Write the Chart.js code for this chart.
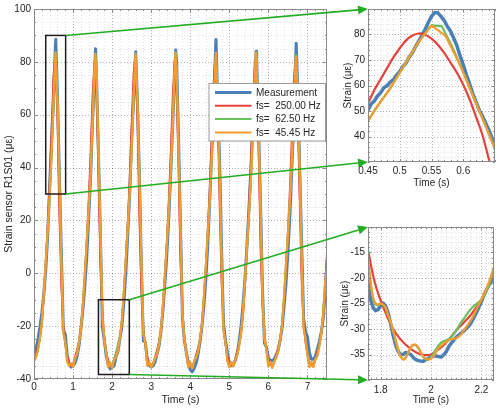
<!DOCTYPE html>
<html><head><meta charset="utf-8">
<script src="https://cdn.jsdelivr.net/npm/chart.js@4.4.1/dist/chart.umd.min.js"></script>
<style>
html,body{margin:0;padding:0;background:#fff;}
#wrap{position:relative;width:500px;height:411px;overflow:hidden;background:#fff;}
canvas{position:absolute;}
#main{left:0;top:0;width:500px;height:411px;}
#in1{left:330px;top:0;width:170px;height:200px;}
#in2{left:330px;top:205px;width:170px;height:206px;}
#ov{left:0;top:0;width:500px;height:411px;pointer-events:none;}
</style></head><body>
<div id="wrap">
<canvas id="main" width="500" height="411"></canvas>
<canvas id="in1" width="170" height="200"></canvas>
<canvas id="in2" width="170" height="206"></canvas>
<canvas id="ov" width="500" height="411"></canvas>
</div>
<script>
// ---------------- DATA ----------------
const seriesLabels = ['Measurement', 'fs=  250.00 Hz', 'fs=  62.50 Hz', 'fs=  45.45 Hz'];

// main chart: values on a 0.05 s grid from 0 to 7.5 s
const mainStart = 0, mainStep = 0.05;
const mainMeas = [
 -31.5,-28.8,-25.1,-20.5,-15,-8,1,14,33,50.3,
 65.5,87.2,68,36.6,8,-21.5,-23,-31,-34.5,-35.5,
 -35,-34,-31.6,-27.5,-21,-14,-5,6,21,37,
 58,75,74,45,14,-20.3,-25.4,-31.3,-34.6,-36.2,
 -35.5,-35.1,-31.6,-29.4,-24.6,-20,-11,0,15,30,
 51,66,83,64,36,1,-25.5,-26,-33,-34.8,
 -35.5,-35,-33.5,-30.5,-27.5,-22,-14,-4,7,21,
 38,56,74,80,51,17,-17,-25.5,-30,-34.5,
 -36.5,-37.2,-36,-34,-30.5,-26,-20,-12,-2,11,
 28,46,63,86,66,43,10,-19,-25,-30,
 -34,-35,-34.5,-33,-30.5,-26,-20,-12,-2,10,
 24,39,56,72,81,54,25,-7,-26.5,-28,
 -32,-33,-33,-32.5,-31,-29,-25.5,-20.5,-13,-4,
 8,22,40,58,82,70,40,12,-17,-22,
 -24,-30,-32.5,-32.5,-31.5,-29,-26,-22.5,-17.5,-8,
 4];
const mainRed = [
 -33.4,-30.6,-28,-24.7,-19.4,-9.4,3.3,17.3,33,52.9,
 74.6,78.4,60.3,23,-4,-19.5,-26.7,-31.4,-33.9,-35,
 -34.2,-31.8,-29,-26,-21.8,-13.8,-1.8,12.3,27.3,45.4,
 66.8,80,68,39.7,4.5,-14.5,-24.4,-30,-33.1,-34.8,
 -35,-33.2,-30.3,-27.7,-24.3,-18.7,-8,5,19,35,
 56,75.5,77.5,58,20.5,-6.5,-21,-27.4,-31.8,-34.1,
 -35.1,-34.2,-31.8,-29,-26.1,-22,-14.2,-2.3,11.7,26.7,
 44.6,66,80.4,68.9,41.2,5.3,-14.2,-24.3,-29.9,-33.1,
 -34.8,-35.1,-33.6,-30.8,-28.2,-25,-19.8,-10.2,2.5,16.5,
 32.1,52,72.3,79.3,61.8,27.7,-2.5,-18.7,-26.3,-31.2,
 -33.8,-35,-34.5,-32.6,-29.5,-26.7,-22.9,-16,-4.4,9.2,
 23.8,41,62.2,78.8,72.3,47.5,9.5,-11.5,-23,-29,
 -32.6,-34.5,-35,-33.6,-30.9,-28.3,-25.1,-20.1,-10.7,2,
 15.9,31.5,51.4,71.8,79.2,62.6,29.3,-1.5,-18,-26,
 -31,-33.7,-34.9,-34.7,-32.6,-29.8,-27,-23.4,-16.8,-5.5,
 7.8];
const mainGreen = [
 -32.8,-31.6,-29,-24.5,-18.5,-8.2,3.6,15.6,28.6,44.6,
 64.6,83.4,66,36,4.5,-22,-26.2,-33.2,-34.8,-34.2,
 -35.4,-32.4,-30.2,-26.3,-21,-12,0,11.4,24,38,
 57.5,77,76,47,16,-16.8,-25.1,-30.4,-35.5,-33.8,
 -35.5,-32.4,-30.3,-26.6,-24.2,-18.2,-6.8,5.2,17.2,30.2,
 46.6,66.6,83.2,65.5,35.5,3.4,-22.6,-26.4,-34.8,-33.6,
 -35.4,-34,-32,-30.3,-26.5,-21.3,-12.4,-0.5,11,23.5,
 37.4,56.7,76.3,77,48,17,-15,-25.2,-30.2,-35.4,
 -33.8,-35.8,-33.2,-31.6,-29.2,-24.8,-19,-8.5,3.5,15.1,
 28,43.5,63.3,82.2,67.5,38,6.2,-21.2,-26.2,-33,
 -35.3,-33.6,-35.1,-32.3,-30.8,-27.3,-22.3,-14.4,-2.7,9.3,
 21.2,34.8,53,72.7,79.5,53.5,23,-9.2,-24.9,-29,
 -35.1,-33.6,-35.6,-33.2,-31.7,-29.3,-25,-19.2,-8.8,3.1,
 14.7,27.4,42.7,62.5,81.2,68.5,39,7.5,-20.4,-25,
 -30.8,-35.2,-33.7,-35.3,-32.5,-31.1,-27.7,-23,-15.8,-4.2,
 1.8];
const mainOrange = [
 -33,-31.9,-29.3,-24.8,-18.8,-8,4,16,29,45,
 65,83.6,65.5,35.5,4,-22.5,-26,-33.5,-35,-34,
 -35.5,-32.2,-30.6,-26.6,-21.4,-12.3,-0.3,11.7,24.2,38.3,
 57.8,77.3,75.5,46.5,15.5,-16.1,-25,-30.3,-35.6,-33.7,
 -35.8,-32.9,-31.8,-28.9,-24.2,-17.9,-6.5,5.5,17.5,30.5,
 47,67,83,65,35,3,-23,-26.2,-35,-33.5,
 -35.5,-34.2,-32.2,-30.6,-26.8,-21.6,-12.7,-0.7,11.2,23.7,
 37.7,57,76.6,76.5,47.6,16.6,-15.4,-25,-30.1,-35.6,
 -33.7,-36,-33.4,-31.9,-29.5,-25.1,-19.2,-8.7,3.3,15.3,
 28.2,43.8,63.6,82,67,37.4,5.8,-21.5,-26,-33.2,
 -35.5,-33.5,-35.3,-32.5,-31.1,-27.6,-22.6,-14.7,-2.9,9.1,
 21.4,35,53.3,73,79,53,22.4,-9.6,-24.8,-28.8,
 -35.3,-33.5,-35.8,-33.4,-32,-29.6,-25.3,-19.5,-9.1,2.9,
 14.9,27.6,43,62.8,81,68,38.6,7,-20.7,-24.8,
 -31,-35.5,-33.5,-35.5,-32.7,-31.4,-28,-23.2,-16,-4,
 2];
// peak samples (times between grid points)
const measPeakT   = [0.556, 1.574, 2.603, 3.626, 4.659, 5.685, 6.711];
const measPeakV   = [88.6, 85, 83.8, 84.5, 88.5, 84, 87];
const redPeakT    = [0.531, 1.549, 2.578, 3.601, 4.634, 5.66, 6.686];
const redPeakV    = [80.4, 80, 80.2, 80.4, 80.3, 80.4, 80];
const greenPeakT  = [0.555, 1.573, 2.602, 3.625, 4.658, 5.684, 6.71];
const greenPeakV  = [83.5, 83.2, 83.3, 83.6, 83.5, 83.6, 82.5];
const orangePeakT = [0.551, 1.569, 2.598, 3.621, 4.654, 5.68, 6.706];
const orangePeakV = [83.6, 83, 83, 83.5, 83.4, 83.5, 82];

const mainXRange = [0, 7.5], mainYRange = [-40, 100];
const mainXTicks = [0, 1, 2, 3, 4, 5, 6, 7];
const mainYTicks = [-40, -20, 0, 20, 40, 60, 80, 100];
// zoom rectangles [x0, x1, y0, y1] in data units
const zoomBox1 = [0.3, 0.81, 30, 90];
const zoomBox2 = [1.65, 2.44, -38.3, -10];

// inset 1 (peak)
const in1XRange = [0.45, 0.65], in1YRange = [30, 90];
const in1XTicks = [0.45, 0.5, 0.55, 0.6];
const in1YTicks = [40, 50, 60, 70, 80];
const in1MeasStart = 0.45, in1MeasStep = 0.005;
const in1Meas = [50.3,52.8,53.9,55.9,57.2,59.1,59.9,61.3,62.3,64.1,
 65.5,67.4,68.9,71.1,72.9,75.3,77.4,79.7,82,84.7,
 87.1,88.6,88.5,87.1,85.5,83.2,81.3,78.5,75.6,71.7,
 68.1,64.2,60.6,56.8,53.7,50.5,48.1,45.4,42.7,39.6,36.6];
const in1RedStart = 0.45, in1RedStep = 0.01;
const in1Red = [52.9,58.2,62.5,66.8,71,74.6,77.7,79.6,80.4,79.9,78.4,76,72.8,69,65,60.3,54.6,47.8,40.8,31.5,23];
const in1GreenT = [0.438,0.454,0.47,0.486,0.502,0.518,0.534,0.55,0.566,0.582,0.598,0.614,0.63,0.646,0.662];
const in1Green  = [41.2,47.7,53.7,59.3,65.9,72.4,78.5,83.6,83.3,75.5,66.5,56.8,47.3,37.5,27];
const in1OrangeT = [0.44,0.462,0.484,0.506,0.528,0.55,0.572,0.594,0.616,0.638,0.66];
const in1Orange  = [42,51,58.5,67.5,76.5,83.6,79.5,68.5,55.5,42.5,29];

// inset 2 (valley)
const in2XRange = [1.75, 2.25], in2YRange = [-40, -10];
const in2XTicks = [1.8, 2, 2.2];
const in2YTicks = [-35, -30, -25, -20, -15];
const in2Start = 1.75, in2Step = 0.01;
const in2Meas = [-20.3,-24.2,-25.8,-26.4,-26.2,-25.4,-24.9,-25.5,-26.9,-29,
 -31.3,-33.2,-34.4,-35,-35,-34.6,-34.8,-35,-35.6,-36,
 -36.2,-36.3,-36.3,-36,-35.8,-35.5,-35.3,-35.3,-35.4,-35.5,
 -35.1,-34.5,-33.5,-32.8,-32.2,-31.6,-31.2,-30.8,-30.4,-29.9,
 -29.4,-28.7,-27.8,-26.8,-25.7,-24.6,-23.4,-22.3,-21.4,-20.6,-20];
const in2RedStart = 1.75, in2RedStep = 0.025;
const in2Red = [-14.5,-20.5,-24.4,-27.4,-30,-31.8,-33.1,-34.1,-34.8,-35.1,-35,-34.2,-33.2,-31.8,-30.3,-29,-27.7,-26.1,-24.3,-21.9,-18.7];
const in2Green = [-16.8,-21,-24.2,-25.2,-25.3,-25.1,-25.3,-26,-27.4,-28.8,
 -30.4,-32.3,-34.1,-35.4,-35.9,-35.5,-34.6,-33.7,-33.2,-33.2,
 -33.8,-34.7,-35.5,-35.9,-35.9,-35.5,-34.8,-34,-33.2,-32.7,
 -32.4,-32.2,-32,-31.6,-31,-30.3,-29.5,-28.7,-28,-27.3,
 -26.6,-26,-25.5,-25.1,-24.7,-24.2,-23.5,-22.6,-21.4,-19.9,-18.2];
const in2Orange = [-16.1,-20.5,-23.8,-25,-25.2,-25,-25.2,-25.8,-27.3,-28.6,
 -30.3,-32.3,-34.2,-35.5,-36,-35.6,-34.6,-33.6,-33.1,-33.1,
 -33.7,-34.6,-35.4,-35.9,-36,-35.8,-35.3,-34.5,-33.8,-33.3,
 -32.9,-32.5,-32.2,-32,-31.9,-31.8,-31.5,-31,-30.3,-29.6,
 -28.9,-28.1,-27.2,-26.2,-25.2,-24.2,-23.2,-22.1,-20.8,-19.4,-17.9];

// ---------------- helpers ----------------
const FONT = "'Liberation Sans', Arial, Helvetica, sans-serif";
const TXT = '#262626';
const C_BLUE = '#4a80b5', C_RED = '#e6413d', C_GREEN = '#69c05e', C_ORANGE = '#f59b2f';
const C_LINK = '#22ad22';

function gridPts(start, step, vals) { return vals.map((v, i) => ({x: +(start + i * step).toFixed(4), y: v})); }
function pairPts(ts, vals) { return ts.map((t, i) => ({x: t, y: vals[i]})); }
function merged(a, b) { return a.concat(b).sort((p, q) => p.x - q.x); }
function fmt(v) { return String(+(+v).toFixed(3)); }
function stepsIn(min, max, st) {
  const out = [];
  for (let n = Math.ceil(min / st - 1e-6); n * st <= max + 1e-9; n++) out.push(n * st);
  return out;
}

const axesDecor = {
  id: 'axesDecor',
  beforeDatasetsDraw(chart, args, o) {
    const {ctx, chartArea: a, scales: {x, y}} = chart;
    ctx.save();
    ctx.lineWidth = 1;
    ctx.setLineDash([1, 2]);
    const vl = (vals, col) => {
      ctx.strokeStyle = col; ctx.beginPath();
      vals.forEach(v => { const p = Math.round(x.getPixelForValue(v)) + 0.5;
        if (p > a.left + 1 && p < a.right - 1) { ctx.moveTo(p, a.top); ctx.lineTo(p, a.bottom); } });
      ctx.stroke();
    };
    const hl = (vals, col) => {
      ctx.strokeStyle = col; ctx.beginPath();
      vals.forEach(v => { const p = Math.round(y.getPixelForValue(v)) + 0.5;
        if (p > a.top + 1 && p < a.bottom - 1) { ctx.moveTo(a.left, p); ctx.lineTo(a.right, p); } });
      ctx.stroke();
    };
    vl(stepsIn(x.min, x.max, o.minorX), o.minorColor);
    hl(stepsIn(y.min, y.max, o.minorY), o.minorColor);
    vl(x.ticks.map(t => t.value), o.majorColor);
    hl(y.ticks.map(t => t.value), o.majorColor);
    ctx.restore();
  },
  afterDatasetsDraw(chart, args, o) {
    const {ctx, chartArea: a, scales: {x, y}} = chart;
    ctx.save();
    ctx.setLineDash([]);
    ctx.lineWidth = 1;
    ctx.strokeStyle = o.boxColor;
    ctx.beginPath();
    const tx = (vals, len) => vals.forEach(v => { const p = Math.round(x.getPixelForValue(v)) + 0.5;
      ctx.moveTo(p, a.bottom); ctx.lineTo(p, a.bottom - len); ctx.moveTo(p, a.top); ctx.lineTo(p, a.top + len); });
    const ty = (vals, len) => vals.forEach(v => { const p = Math.round(y.getPixelForValue(v)) + 0.5;
      ctx.moveTo(a.left, p); ctx.lineTo(a.left + len, p); ctx.moveTo(a.right, p); ctx.lineTo(a.right - len, p); });
    tx(stepsIn(x.min, x.max, o.minorX), o.minLen);
    ty(stepsIn(y.min, y.max, o.minorY), o.minLen);
    tx(x.ticks.map(t => t.value), o.majLen);
    ty(y.ticks.map(t => t.value), o.majLen);
    ctx.stroke();
    ctx.strokeRect(a.left + 0.5, a.top + 0.5, a.width - 1, a.height - 1);
    (o.boxes || []).forEach(b => {
      ctx.strokeStyle = '#1c1c1c'; ctx.lineWidth = 1.5;
      const x0 = x.getPixelForValue(b[0]), x1 = x.getPixelForValue(b[1]);
      const y0 = y.getPixelForValue(b[2]), y1 = y.getPixelForValue(b[3]);
      ctx.strokeRect(x0, y1, x1 - x0, y0 - y1);
    });
    ctx.restore();
  }
};

const boxLegend = {
  id: 'boxLegend',
  afterDraw(chart, args, o) {
    if (!o.show) return;
    const {ctx, chartArea: a} = chart;
    const w = 116.5, h = 57.5;
    const x0 = a.right - 1.5 - w, y0 = 83.5;
    ctx.save();
    ctx.fillStyle = '#fff';
    ctx.fillRect(x0, y0, w, h);
    ctx.strokeStyle = '#9a9a9a'; ctx.lineWidth = 1;
    ctx.strokeRect(x0, y0, w, h);
    ctx.font = '10px ' + FONT;
    ctx.textBaseline = 'middle';
    ctx.fillStyle = TXT;
    chart.data.datasets.forEach((ds, i) => {
      const yy = y0 + 9 + i * 13.3;
      ctx.strokeStyle = ds.borderColor; ctx.lineWidth = ds.legendWidth;
      ctx.beginPath(); ctx.moveTo(x0 + 6, yy); ctx.lineTo(x0 + 42.5, yy); ctx.stroke();
      ctx.fillText(ds.label, x0 + 47, yy + 0.5);
    });
    ctx.restore();
  }
};

function datasets(meas, red, green, orange, wide, smooth) {
  return [
    {label: seriesLabels[0], data: meas, borderColor: C_BLUE, borderWidth: wide ? 3.5 : 3, legendWidth: 3, order: 4, tension: 0},
    {label: seriesLabels[1], data: red, borderColor: C_RED, borderWidth: wide ? 2.2 : 2, legendWidth: 2, order: 3, tension: smooth ? 0.4 : 0},
    {label: seriesLabels[2], data: green, borderColor: C_GREEN, borderWidth: wide ? 2.2 : 2, legendWidth: 2, order: 2, tension: smooth ? 0.3 : 0},
    {label: seriesLabels[3], data: orange, borderColor: C_ORANGE, borderWidth: wide ? 2.2 : 2.2, legendWidth: 2, order: 1, tension: smooth ? 0.3 : 0}
  ].map(d => Object.assign(d, {pointRadius: 0, fill: false, clip: 0, borderJoinStyle: 'round', borderCapStyle: 'round'}));
}

function makeChart(id, ds, c) {
  return new Chart(document.getElementById(id), {
    type: 'line',
    data: {datasets: ds},
    plugins: [axesDecor, boxLegend],
    options: {
      responsive: false, animation: false, devicePixelRatio: 1, events: [],
      layout: {padding: c.pad},
      plugins: {
        legend: {display: false}, tooltip: {enabled: false},
        axesDecor: {minorX: c.minorX, minorY: c.minorY, majorColor: 'rgba(0,0,0,0.22)', minorColor: c.minorColor,
                    boxColor: '#8a8a8a', majLen: c.majLen, minLen: c.minLen, boxes: c.boxes || []},
        boxLegend: {show: !!c.legend}
      },
      scales: {
        x: {type: 'linear', min: c.xr[0], max: c.xr[1],
            afterBuildTicks: s => { s.ticks = c.xt.map(v => ({value: v})); },
            afterFit: s => { s.height = c.xh; },
            grid: {display: false, drawTicks: false}, border: {display: false},
            ticks: {font: {family: FONT, size: 10}, color: TXT, padding: c.xtp, maxRotation: 0, autoSkip: false, callback: v => fmt(v)},
            title: {display: true, text: 'Time (s)', font: {family: FONT, size: c.tfs}, color: TXT, padding: {top: c.xtitle, bottom: c.xtitle}}},
        y: {type: 'linear', min: c.yr[0], max: c.yr[1],
            afterBuildTicks: s => { s.ticks = c.yt.map(v => ({value: v})); },
            afterFit: s => { s.width = c.yw; },
            grid: {display: false, drawTicks: false}, border: {display: false},
            ticks: {font: {family: FONT, size: 10}, color: TXT, padding: 3, autoSkip: false, callback: v => fmt(v)},
            title: {display: true, text: c.ytitleText, font: {family: FONT, size: c.tfs}, color: TXT, padding: {top: c.ytitle, bottom: c.ytitle}}}
      }
    }
  });
}

// ---------------- charts ----------------
const mainChart = makeChart('main', datasets(
  merged(gridPts(mainStart, mainStep, mainMeas), pairPts(measPeakT, measPeakV)),
  merged(gridPts(mainStart, mainStep, mainRed), pairPts(redPeakT, redPeakV)),
  merged(gridPts(mainStart, mainStep, mainGreen), pairPts(greenPeakT, greenPeakV)),
  merged(gridPts(mainStart, mainStep, mainOrange), pairPts(orangePeakT, orangePeakV)),
  false, false), {
  pad: {left: 0, right: 173, top: 9, bottom: 0}, xh: 32, yw: 34,
  xr: mainXRange, yr: mainYRange, xt: mainXTicks, yt: mainYTicks,
  minorX: 0.2, minorY: 5, minorColor: 'rgba(0,0,0,0.11)', majLen: 4, minLen: 2,
  xtp: 2, tfs: 10.5, xtitle: 4.7, ytitle: 2.7, ytitleText: 'Strain sensor R1S01 (με)',
  boxes: [zoomBox1, zoomBox2], legend: true
});

const in1Chart = makeChart('in1', datasets(
  gridPts(in1MeasStart, in1MeasStep, in1Meas),
  gridPts(in1RedStart, in1RedStep, in1Red),
  pairPts(in1GreenT, in1Green),
  pairPts(in1OrangeT, in1Orange),
  true, false).map((d, i) => (i === 1 ? Object.assign(d, {tension: 0.4}) : d)), {
  pad: {left: 0, right: 5, top: 9, bottom: 0}, xh: 38, yw: 38,
  xr: in1XRange, yr: in1YRange, xt: in1XTicks, yt: in1YTicks,
  minorX: 0.01, minorY: 2, minorColor: 'rgba(0,0,0,0.10)', majLen: 3, minLen: 2,
  xtp: 3.5, tfs: 10, xtitle: 11, ytitle: 12.5, ytitleText: 'Strain (με)'
});

const in2Chart = makeChart('in2', datasets(
  gridPts(in2Start, in2Step, in2Meas),
  gridPts(in2RedStart, in2RedStep, in2Red),
  gridPts(in2Start, in2Step, in2Green),
  gridPts(in2Start, in2Step, in2Orange),
  true, true), {
  pad: {left: 0, right: 6, top: 22, bottom: 0}, xh: 31, yw: 38,
  xr: in2XRange, yr: in2YRange, xt: in2XTicks, yt: in2YTicks,
  minorX: 0.02, minorY: 1, minorColor: 'rgba(0,0,0,0.10)', majLen: 3, minLen: 2,
  xtp: 4, tfs: 10, xtitle: 4.3, ytitle: 9, ytitleText: 'Strain (με)'
});

// ---------------- connectors ----------------
function drawLinks() {
  const ctx = document.getElementById('ov').getContext('2d');
  ctx.clearRect(0, 0, 500, 411);
  const sx = mainChart.scales.x, sy = mainChart.scales.y;
  const corner = (chart, id, which) => {
    const el = document.getElementById(id), a = chart.chartArea;
    return [el.offsetLeft + a.left, el.offsetTop + (which === 'top' ? a.top : a.bottom)];
  };
  const links = [
    [[sx.getPixelForValue(zoomBox1[1]), sy.getPixelForValue(zoomBox1[3])], corner(in1Chart, 'in1', 'top')],
    [[sx.getPixelForValue(zoomBox1[1]), sy.getPixelForValue(zoomBox1[2])], corner(in1Chart, 'in1', 'bottom')],
    [[sx.getPixelForValue(zoomBox2[1]), sy.getPixelForValue(zoomBox2[3])], corner(in2Chart, 'in2', 'top')],
    [[sx.getPixelForValue(zoomBox2[1]), sy.getPixelForValue(zoomBox2[2])], corner(in2Chart, 'in2', 'bottom')]
  ];
  ctx.strokeStyle = C_LINK; ctx.fillStyle = C_LINK; ctx.lineWidth = 1.6;
  links.forEach(([p0, p1]) => {
    const ang = Math.atan2(p1[1] - p0[1], p1[0] - p0[0]), L = 10, W = 4.5;
    const bx = p1[0] - L * Math.cos(ang), by = p1[1] - L * Math.sin(ang);
    ctx.beginPath(); ctx.moveTo(p0[0], p0[1]); ctx.lineTo(bx, by); ctx.stroke();
    ctx.beginPath(); ctx.moveTo(p1[0], p1[1]);
    ctx.lineTo(bx - W * Math.sin(ang), by + W * Math.cos(ang));
    ctx.lineTo(bx + W * Math.sin(ang), by - W * Math.cos(ang));
    ctx.closePath(); ctx.fill();
  });
}
drawLinks();
</script>
</body></html>
